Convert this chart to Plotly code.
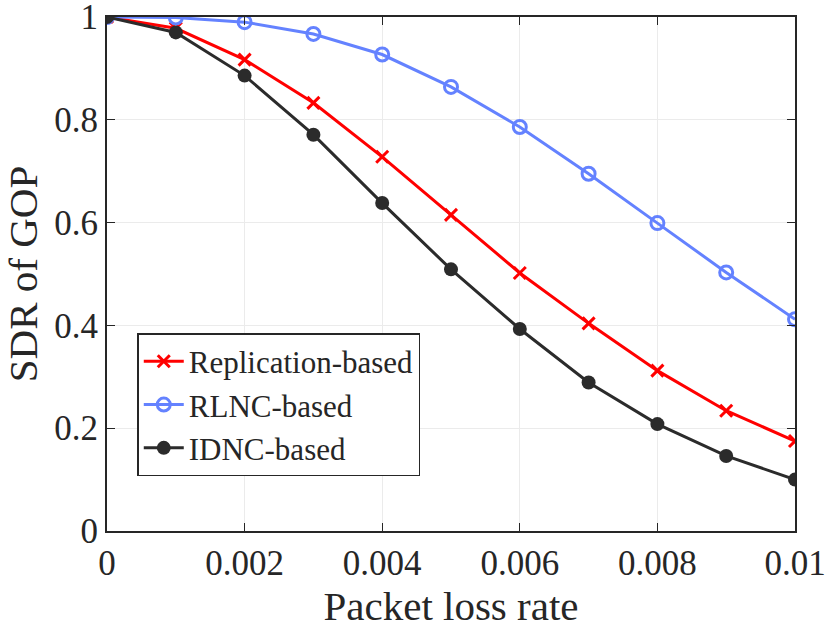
import plotly.graph_objects as go

loss_rate = [0, 0.001, 0.002, 0.003, 0.004, 0.005, 0.006, 0.007, 0.008, 0.009, 0.01]
replication = [1.0, 0.978, 0.917, 0.833, 0.728, 0.615, 0.502, 0.404, 0.312, 0.234, 0.175]
rlnc = [1.0, 0.999, 0.990, 0.967, 0.927, 0.864, 0.786, 0.695, 0.599, 0.503, 0.412]
idnc = [1.0, 0.970, 0.886, 0.771, 0.638, 0.509, 0.393, 0.289, 0.208, 0.146, 0.100]

x_ticks = [0, 0.002, 0.004, 0.006, 0.008, 0.01]
x_tick_labels = ["0", "0.002", "0.004", "0.006", "0.008", "0.01"]
y_ticks = [0, 0.2, 0.4, 0.6, 0.8, 1.0]
y_tick_labels = ["0", "0.2", "0.4", "0.6", "0.8", "1"]

font_family = "Liberation Serif, Times New Roman, serif"
axis_color = "#262626"

fig = go.Figure()
fig.add_trace(go.Scatter(
    x=loss_rate, y=replication, name="Replication-based", mode="lines+markers",
    line=dict(color="#FF0000", width=3),
    marker=dict(symbol="x-thin", size=12, line=dict(color="#FF0000", width=3)),
))
fig.add_trace(go.Scatter(
    x=loss_rate, y=rlnc, name="RLNC-based", mode="lines+markers",
    line=dict(color="#6482FF", width=3),
    marker=dict(symbol="circle-open", size=13, color="#6482FF", line=dict(width=3)),
))
fig.add_trace(go.Scatter(
    x=loss_rate, y=idnc, name="IDNC-based", mode="lines+markers",
    line=dict(color="#2B2B2B", width=3),
    marker=dict(symbol="circle", size=14, color="#2B2B2B"),
))

fig.update_layout(
    width=827, height=632,
    margin=dict(l=107, r=32, t=17, b=101, autoexpand=False),
    plot_bgcolor="white", paper_bgcolor="white",
    font=dict(family=font_family, size=35, color=axis_color),
    showlegend=True,
    legend=dict(
        x=0.044, y=0.385, xanchor="left", yanchor="top",
        bgcolor="white", bordercolor=axis_color, borderwidth=1.5,
        font=dict(family=font_family, size=31, color=axis_color),
        tracegroupgap=0, itemwidth=40,
    ),
)
fig.update_xaxes(
    range=[0, 0.01], tickvals=x_ticks, ticktext=x_tick_labels,
    showline=True, linecolor=axis_color, linewidth=2, mirror="ticks",
    ticks="inside", ticklen=8, tickcolor=axis_color, automargin=False,
    ticklabeloverflow="allow",
    showgrid=True, gridcolor="#EBEBEB", gridwidth=1, zeroline=False,
    title=dict(text="Packet loss rate", font=dict(size=41), standoff=8),
)
fig.update_yaxes(
    range=[0, 1], tickvals=y_ticks, ticktext=y_tick_labels,
    showline=True, linecolor=axis_color, linewidth=2, mirror="ticks",
    ticks="inside", ticklen=8, tickcolor=axis_color, automargin=False,
    ticklabeloverflow="allow",
    showgrid=True, gridcolor="#EBEBEB", gridwidth=1, zeroline=False,
    title=dict(text="SDR of GOP", font=dict(size=41), standoff=10),
)

fig.write_html(
    "out.html",
    config={"displayModeBar": False},
    post_script="document.body.style.margin='0px';",
)
